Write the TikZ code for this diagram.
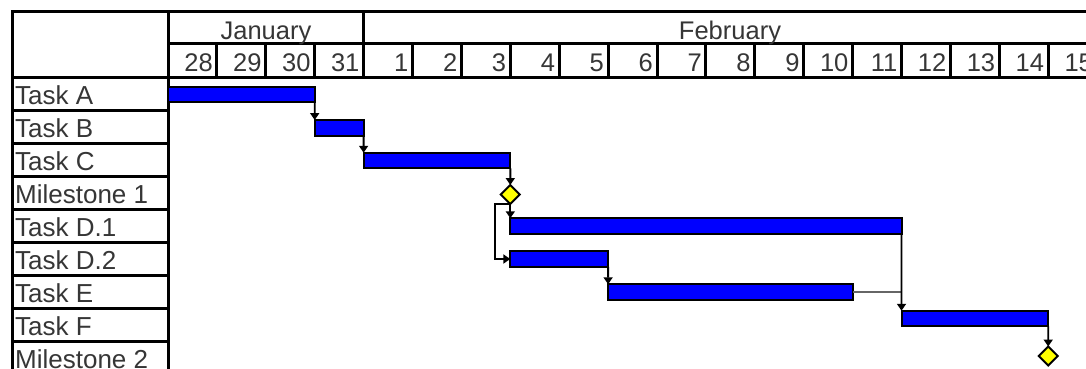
\documentclass[tikz,border=0pt]{standalone}
\usepackage{fontspec}
\setmainfont{Liberation Sans}
\usetikzlibrary{arrows.meta,shapes.geometric}
\definecolor{txt}{HTML}{363636}
\definecolor{barblue}{HTML}{0000FF}
\definecolor{msyellow}{HTML}{FFFF00}
\begin{document}
\begin{tikzpicture}[x=1pt,y=-1pt,
  grid/.style={line width=3pt, black, line cap=rect},
  lbl/.style={anchor=base west, inner sep=0, text=txt, font=\fontsize{26}{30}\selectfont},
  daylbl/.style={anchor=base east, inner sep=0, text=txt, font=\fontsize{25.5}{30}\selectfont},
  monthlbl/.style={anchor=base, inner sep=0, text=txt, font=\fontsize{25.5}{30}\selectfont},
  bar/.style={rectangle, draw=black, fill=barblue, line width=2pt, inner sep=0, outer sep=0, minimum height=15.5pt, anchor=west},
  ms/.style={diamond, draw=black, fill=msyellow, line width=2pt, inner sep=0, outer sep=0, minimum width=19pt, minimum height=19pt},
  link/.style={line width=1.9pt, black, -{Triangle[width=9pt,length=7pt]}},
  thinlink/.style={line width=1.1pt, black!60}]
\useasboundingbox (0,0) rectangle (1086,369);
\clip (0,0) rectangle (1086,369);
\fill[white] (0,0) rectangle (1086,369);

% grid
\draw[grid] (12,12) -- (1100,12);
\draw[grid] (12,12) -- (12,380);
\draw[grid] (168,12) -- (168,380);
\draw[grid] (168,44) -- (1100,44);
\draw[grid] (12,77) -- (1100,77);
\foreach \j in {1,...,8} \draw[grid] (12,{77+33*\j}) -- (168,{77+33*\j});
\foreach \i in {1,...,19} \draw[grid] ({168+48.9*\i},44) -- ({168+48.9*\i},77);
\draw[grid] ({168+48.9*4},12) -- ({168+48.9*4},44);

% header text
\node[monthlbl] (jan) at (266,40) {January};
\node[monthlbl] (feb) at (730,40) {February};
\foreach \d [count=\i from 0] in {28,29,30,31,1,2,3,4,5,6,7,8,9,10,11,12,13,14,15}
  \node[daylbl] (day\i) at ({168+48.9*(\i+1)-4},71.5) {\d};

% row labels
\foreach \t [count=\j from 0] in {Task A,Task B,Task C,Milestone 1,Task D.1,Task D.2,Task E,Task F,Milestone 2}
  \node[lbl] (row\j) at (15,{77+33*\j+27}) {\t};

% bars
\node[bar, minimum width=146.7pt] (ta) at (168,94.5) {};
\node[bar, minimum width=48.9pt] (tb) at (314.7,127.8) {};
\node[bar, minimum width=146.7pt] (tc) at (363.6,160.5) {};
\node[ms] (m1) at (510.3,194.5) {};
\node[bar, minimum width=391.2pt] (td1) at (510.3,226) {};
\node[bar, minimum width=97.8pt] (td2) at (510.3,259) {};
\node[bar, minimum width=244.5pt] (te) at (608.1,292) {};
\node[bar, minimum width=146.7pt] (tf) at (901.5,318.5) {};
\node[ms] (m2) at (1048.2,356) {};

% links
\draw[link] (ta.south east) -- (tb.north west);
\draw[link] (tb.south east) -- (tc.north west);
\draw[link] (tc.south east) -- (m1.north);
\draw[link] (m1.south) -- (td1.north west);
\draw[link] (m1.south) -- ++(-15,0) |- (td2.west);
\draw[link] (td2.south east) -- (te.north west);
\draw[thinlink] (te.east) -- (te.east -| tf.west);
\draw[link] (td1.south east) -- (tf.north west);
\draw[link] (tf.south east) -- (m2.north);
\end{tikzpicture}
\end{document}
